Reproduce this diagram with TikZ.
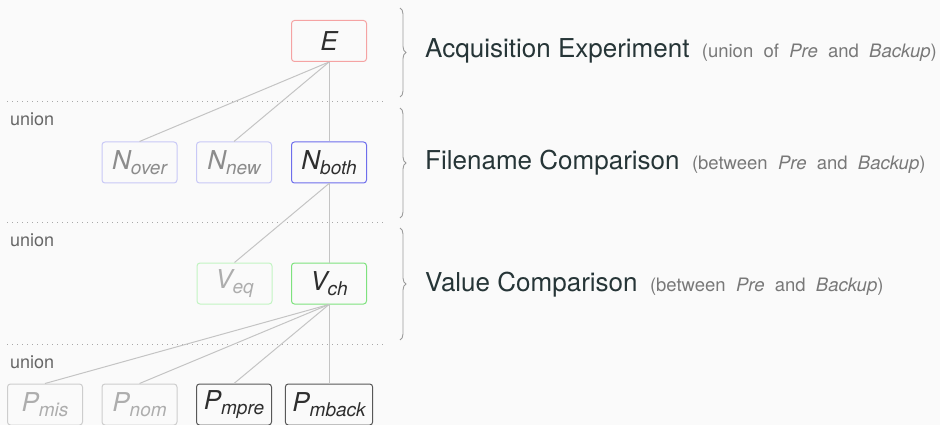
\documentclass[tikz,border=0pt]{standalone}
\usepackage{fontspec}
\setmainfont{TeX Gyre Heros}
\newfontfamily\notefont[WordSpace=2.0]{TeX Gyre Heros}
\usetikzlibrary{decorations.pathreplacing}

\definecolor{bgcol}{HTML}{FAFAFA}
\definecolor{titlecol}{HTML}{263537}
\definecolor{notecol}{HTML}{787878}
\definecolor{linkcol}{HTML}{C4C4C4}
\definecolor{sepcol}{HTML}{A8A8A8}
\definecolor{bracecol}{HTML}{9A9A9A}
\definecolor{redline}{HTML}{F5A3A3}
\definecolor{bluefaint}{HTML}{C8C8F6}
\definecolor{bluefull}{HTML}{6E6EEC}
\definecolor{greenfaint}{HTML}{C2F4C2}
\definecolor{greenfull}{HTML}{7EE27E}
\definecolor{grayfaint}{HTML}{CDCDCD}
\definecolor{grayfull}{HTML}{585858}

\newcommand\lowsub[1]{\raisebox{-4.5pt}{\fontsize{19}{19}\selectfont #1}}

\tikzset{
  setbox/.style={draw, rounded corners=3pt, line width=1pt,
    minimum width=75pt, minimum height=41pt, inner xsep=7pt, inner ysep=3pt,
    font=\fontsize{26}{28}\selectfont\itshape},
  active/.style={setbox, text=black!82},
  faded/.style={setbox, text=black!45},
  fadedmore/.style={setbox, text=black!32},
  link/.style={draw=linkcol, line width=1pt},
  sep/.style={draw=sepcol, line width=1pt, dash pattern=on 1pt off 4pt},
  unionlabel/.style={anchor=base west, inner sep=0pt, text=black!60,
    font=\fontsize{18}{20}\selectfont},
  levelbrace/.style={draw=bracecol, line width=0.9pt,
    decorate, decoration={brace, amplitude=6pt}},
  title/.style={anchor=base west, inner sep=0pt, text=titlecol,
    font=\fontsize{26}{28}\selectfont},
  note/.style={anchor=base west, inner sep=0pt, text=notecol,
    font=\notefont\fontsize{18.5}{20}\selectfont}
}

\begin{document}
\begin{tikzpicture}[x=1pt, y=-1pt]
  \useasboundingbox (0,0) rectangle (940,425);
  \fill[bgcol] (0,0) rectangle (940,425);

  % level separators
  \draw[sep] (7,101.5) -- (386,101.5);
  \draw[sep] (7,222.5) -- (386,222.5);
  \draw[sep] (7,344) -- (386,344);
  \node[unionlabel] (u1) at (10,125.5) {union};
  \node[unionlabel] (u2) at (10,246.5) {union};
  \node[unionlabel] (u3) at (10,368) {union};

  % experiment
  \node[active, draw=redline] (E) at (329,41) {E};

  % filename comparison
  \node[faded, draw=bluefaint] (Nover) at (139.5,162.5) {N\lowsub{over}};
  \node[faded, draw=bluefaint] (Nnew) at (234,162.5) {N\lowsub{new}};
  \node[active, draw=bluefull] (Nboth) at (329,162.5) {N\lowsub{both}};

  % value comparison
  \node[fadedmore, draw=greenfaint] (Veq) at (234.5,283.5) {V\lowsub{eq}};
  \node[active, draw=greenfull] (Vch) at (329,283.5) {V\lowsub{ch}};

  % property level
  \node[fadedmore, draw=grayfaint] (Pmis) at (45,404.5) {P\lowsub{mis}};
  \node[fadedmore, draw=grayfaint] (Pnom) at (139.5,404.5) {P\lowsub{nom}};
  \node[active, draw=grayfull] (Pmpre) at (234,404.5) {P\lowsub{mpre}};
  \node[active, draw=grayfull] (Pmback) at (329,404.5) {P\lowsub{mback}};

  % connectors
  \draw[link] (E.south) -- (Nover.north);
  \draw[link] (E.south) -- (Nnew.north);
  \draw[link] (E.south) -- (Nboth.north);
  \draw[link] (Nboth.south) -- (Veq.north);
  \draw[link] (Nboth.south) -- (Vch.north);
  \draw[link] (Vch.south) -- (Pmis.north);
  \draw[link] (Vch.south) -- (Pnom.north);
  \draw[link] (Vch.south) -- (Pmpre.north);
  \draw[link] (Vch.south) -- (Pmback.north);

  % level braces and descriptions
  \draw[levelbrace] (400,8) -- (400,97);
  \draw[levelbrace] (400,108) -- (400,218);
  \draw[levelbrace] (400,228) -- (400,340);

  \node[title] (t1) at (425,57.5) {Acquisition Experiment};
  \node[note] (n1) at ([xshift=12pt]t1.base east) {(union of \textit{Pre} and \textit{Backup})};
  \node[title] (t2) at (425,170) {Filename Comparison};
  \node[note] (n2) at ([xshift=12pt]t2.base east) {(between \textit{Pre} and \textit{Backup})};
  \node[title] (t3) at (425,291) {Value Comparison};
  \node[note] (n3) at ([xshift=12pt]t3.base east) {(between \textit{Pre} and \textit{Backup})};
\end{tikzpicture}
\end{document}
